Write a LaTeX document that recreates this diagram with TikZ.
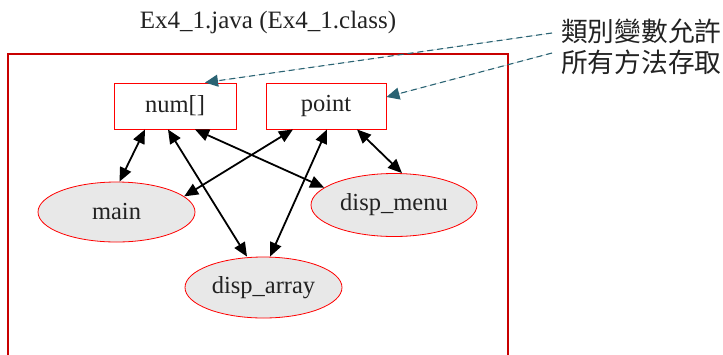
\documentclass[tikz,border=0pt]{standalone}
\usepackage{fontspec}
\setmainfont{Liberation Serif}
\newfontfamily\cjk{Noto Sans CJK TC}
\usetikzlibrary{arrows.meta,shapes.geometric}
\definecolor{framered}{HTML}{C80000}
\definecolor{linkteal}{HTML}{2A6373}
\definecolor{methodfill}{HTML}{E8E8E8}
\definecolor{inktext}{HTML}{222222}
\tikzset{
  frame/.style={draw=framered, line width=2pt},
  classbox/.style={draw=red, line width=0.9pt, rectangle, minimum width=#1, minimum height=46pt,
    inner sep=0pt, text=inktext, font=\fontsize{24.5}{28}\selectfont},
  method/.style={draw=red, line width=0.8pt, ellipse, fill=methodfill, inner sep=0pt,
    text=inktext, font=\fontsize{24.5}{28}\selectfont},
  access/.style={line width=1.8pt, {Triangle[length=14pt,width=12pt]}-{Triangle[length=14pt,width=12pt]}},
  remark/.style={draw=linkteal, line width=1.1pt, dash pattern=on 6pt off 4pt,
    -{Triangle[length=13pt,width=12pt]}, fill=linkteal},
}
\begin{document}
\begin{tikzpicture}[x=1pt, y=-1pt]
\useasboundingbox (0,0) rectangle (723,354);

% source file frame, open at the bottom
\draw[frame] (8,362) -- (8,54) -- (508,54) -- (508,362);
\node[text=inktext, font=\fontsize{25}{28}\selectfont] (title) at (268,22) {Ex4\_1.java (Ex4\_1.class)};

% class variables
\node[classbox=122pt] (num) at (175,106) {num[]};
\node[classbox=120pt] (point) at (326,106) {point};

% methods
\node[method, minimum width=157pt, minimum height=60pt] (main) at (116.5,212) {main};
\node[method, minimum width=166pt, minimum height=63pt] (menu) at (394,205) {disp\_menu};
\node[method, minimum width=157pt, minimum height=61pt] (array) at (263.5,287.5) {disp\_array};

% access links
\draw[access] ([xshift=-30pt]num.south) -- ([xshift=3pt]main.north);
\draw[access] ([xshift=-7pt]num.south) -- ([xshift=-16.5pt]array.north);
\draw[access] ([xshift=20pt]num.south) -- (menu.166);
\draw[access] ([xshift=-33pt]point.south) -- (main.13);
\draw[access] ([xshift=1pt]point.south) -- ([xshift=6.5pt]array.north);
\draw[access] ([xshift=31pt]point.south) -- ([xshift=8pt]menu.north);

% note on class variables
\node[anchor=west, align=left, text=inktext, inner sep=0pt,
      font=\cjk\fontsize{26.7}{31}\selectfont] (note) at (561,46.5) {類別變數允許\\所有方法存取};
\coordinate (d1) at (552,33);
\coordinate (d2) at (552,53);
\draw[remark] (d1) -- ([xshift=30pt]num.north);
\draw[remark] (d2) -- ([yshift=9pt]point.east);
\end{tikzpicture}
\end{document}
